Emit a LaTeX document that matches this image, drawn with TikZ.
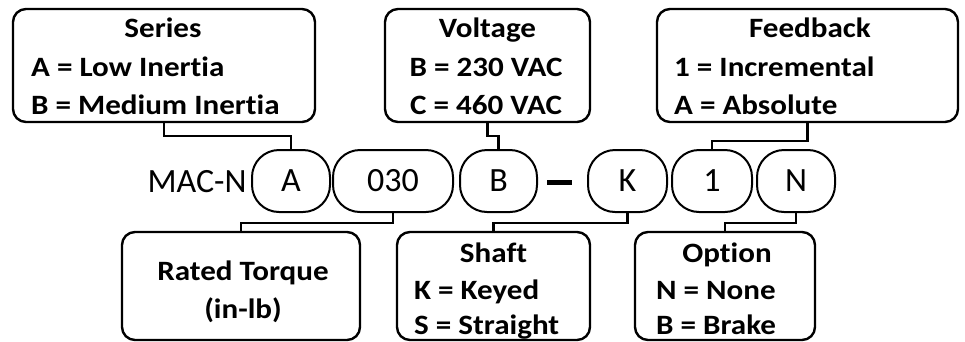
\documentclass[tikz,border=0pt]{standalone}
\usepackage{fontspec}
\setmainfont{Carlito}
\newfontfamily\boxfont{Carlito}[FakeStretch=1.11, Ligatures={NoCommon}]
\begin{document}
\begin{tikzpicture}[x=1pt,y=-1pt,
  infobox/.style={draw=black, line width=2.4pt, rounded corners=13pt},
  codeoval/.style={draw=black, line width=2pt, rounded corners=27pt, minimum height=62pt, inner sep=0pt, font=\fontsize{34}{36}\selectfont},
  boxtext/.style={font=\boxfont\fontsize{28}{30}\selectfont\bfseries, inner sep=0pt},
  conn/.style={draw=black, line width=2.4pt}
]
\useasboundingbox (0,0) rectangle (965,341);

% top boxes
\node[infobox, minimum width=302pt, minimum height=113pt] (series) at (164,65.5) {};
\node[boxtext, anchor=base] at (163,37) {Series};
\node[boxtext, anchor=base west] at (31,76) {A = Low Inertia};
\node[boxtext, anchor=base west] at (31,114) {B = Medium Inertia};

\node[infobox, minimum width=205pt, minimum height=113pt] (volt) at (487.5,65.5) {};
\node[boxtext, anchor=base] at (487.5,37) {Voltage};
\node[boxtext, anchor=base] at (486,76) {B = 230 VAC};
\node[boxtext, anchor=base] at (486,114) {C = 460 VAC};

\node[infobox, minimum width=301pt, minimum height=113pt] (feed) at (807.5,65.5) {};
\node[boxtext, anchor=base] at (810,37) {Feedback};
\node[boxtext, anchor=base west] at (674,76) {1 = Incremental};
\node[boxtext, anchor=base west] at (674,114) {A = Absolute};

% code row
\node[font=\fontsize{34}{36}\selectfont, inner sep=0pt] (mac) at (197,182) {MAC-N};
\node[codeoval, minimum width=78pt] (A) at (291,181) {A};
\node[codeoval, minimum width=120pt] (torq) at (393,181) {030};
\node[codeoval, minimum width=77pt] (B) at (498.5,181) {B};
\node[inner sep=0pt] (dash) at (559.5,182) {\rule{25pt}{5pt}};
\node[codeoval, minimum width=79pt] (K) at (627.5,181) {K};
\node[codeoval, minimum width=80pt] (one) at (712,181) {1};
\node[codeoval, minimum width=78pt] (N) at (796,181) {N};

% bottom boxes
\node[infobox, minimum width=238pt, minimum height=108pt] (rated) at (241,286) {};
\node[boxtext, anchor=base] at (243,280) {Rated Torque};
\node[boxtext, anchor=base] at (243,318) {(in-lb)};

\node[infobox, minimum width=193pt, minimum height=108pt] (shaft) at (493.5,286) {};
\node[boxtext, anchor=base] at (493.5,262) {Shaft};
\node[boxtext, anchor=base west] at (414,299) {K = Keyed};
\node[boxtext, anchor=base west] at (414,334) {S = Straight};

\node[infobox, minimum width=180pt, minimum height=108pt] (opt) at (725,286) {};
\node[boxtext, anchor=base] at (727,262) {Option};
\node[boxtext, anchor=base west] at (656,299) {N = None};
\node[boxtext, anchor=base west] at (656,334) {B = Brake};

% connectors
\draw[conn] (series.south) -- ++(0,13) -| (A.north);
\draw[conn] (volt.south) -- ++(0,13) -| (B.north);
\draw[conn] (feed.south) -- ++(0,18) -| (one.north);
\draw[conn] (torq.south) -- ++(0,10) -| (rated.north);
\draw[conn] (K.south) -- ++(0,10) -| (shaft.north);
\draw[conn] (N.south) -- ++(0,10) -| (opt.north);
\end{tikzpicture}
\end{document}
